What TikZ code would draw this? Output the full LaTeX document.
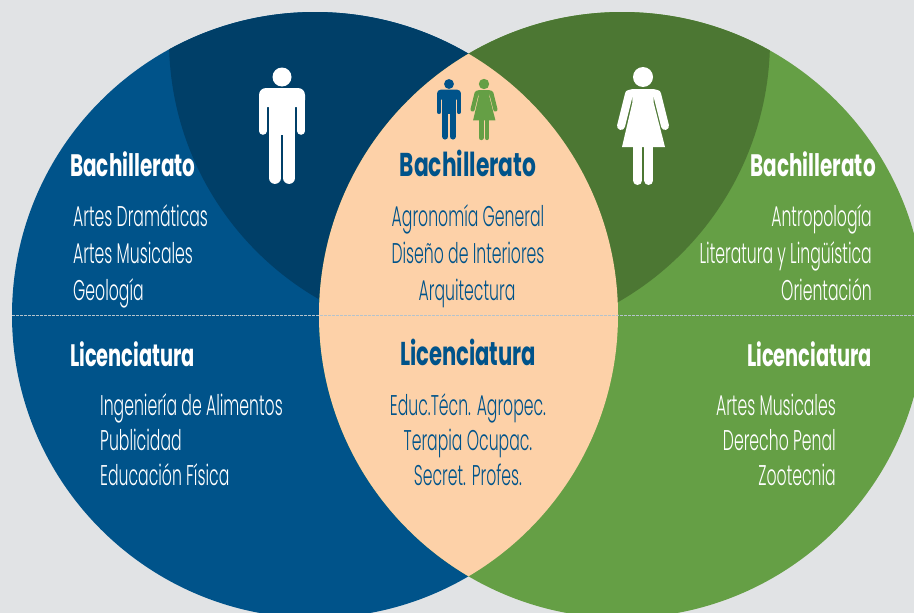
\documentclass[tikz,border=0pt]{standalone}
\usepackage{fontspec}
\newfontfamily\regf[FakeStretch=0.55]{Poppins Light}
\newfontfamily\bldf[FakeStretch=0.645]{Poppins Bold}
\newfontfamily\bldc[FakeStretch=0.66]{Poppins Bold}
\newfontfamily\bldl[FakeStretch=0.625]{Poppins Bold}
\newfontfamily\bldm[FakeStretch=0.64]{Poppins Bold}
\definecolor{bgc}{HTML}{E1E3E5}
\definecolor{blu}{HTML}{00538A}
\definecolor{dblu}{HTML}{003F68}
\definecolor{grn}{HTML}{659F45}
\definecolor{dgrn}{HTML}{4C7733}
\definecolor{pch}{HTML}{FDD1A8}
\definecolor{dsh}{HTML}{B5C3CC}
\tikzset{
  tx/.style={inner sep=0pt,font=\regf\fontsize{28.5}{30}\selectfont},
  hd/.style={inner sep=0pt,font=\bldf\fontsize{31}{33}\selectfont},
  hdc/.style={inner sep=0pt,text=blu,font=\bldc\fontsize{33}{35}\selectfont},
  hdl/.style={inner sep=0pt,font=\bldl\fontsize{31}{33}\selectfont},
  hdm/.style={inner sep=0pt,text=blu,font=\bldm\fontsize{33}{35}\selectfont},
}
\newcommand\manfig[4]{%
\begin{scope}[shift={(#1,#2)},scale=#3]
 \fill[#4] (0,0) circle (9.5);
 \fill[#4,rounded corners={#3*7pt}] (-23,11) rectangle (23,30);
 \fill[#4] (-13,20) rectangle (13,58);
 \draw[#4,line width={#3*7.6pt},line cap=round] (-19.2,20) -- (-19.2,54);
 \draw[#4,line width={#3*7.6pt},line cap=round] (19.2,20) -- (19.2,54);
 \draw[#4,line width={#3*11.8pt},line cap=round] (-7.1,50) -- (-7.1,101);
 \draw[#4,line width={#3*11.8pt},line cap=round] (7.1,50) -- (7.1,101);
\end{scope}}
\newcommand\womanfig[4]{%
\begin{scope}[shift={(#1,#2)},scale=#3]
 \fill[#4] (0,0) circle (10);
 \fill[#4] (-11,12) -- (11,12) -- (10.5,25) -- (22,70) -- (-21,70) -- (-10.5,25) -- cycle;
 \draw[#4,line width={#3*8pt},line cap=round,line join=round] (-10,16) -- (-14,17) -- (-22,49);
 \draw[#4,line width={#3*8pt},line cap=round,line join=round] (10,16) -- (14,17) -- (22,49);
 \draw[#4,line width={#3*9pt},line cap=round] (-5.4,65) -- (-5.4,103.5);
 \draw[#4,line width={#3*9pt},line cap=round] (5.8,65) -- (5.8,103.5);
\end{scope}}
\begin{document}
\begin{tikzpicture}[x=1pt,y=-1pt]
\useasboundingbox (0,0) rectangle (914,613);
\fill[bgc] (0,0) rectangle (914,613);
\begin{scope}
 \clip (0,0) rectangle (914,613);
 \fill[blu] (315,315) circle (303);
 \fill[grn] (622,315) circle (303);
 \begin{scope}
  \clip (315,315) circle (303);
  \fill[dblu] (468,40) circle (299);
 \end{scope}
 \begin{scope}
  \clip (622,315) circle (303);
  \fill[dgrn] (468,40) circle (302);
 \end{scope}
 \begin{scope}
  \clip (315,315) circle (303);
  \fill[pch] (622,315) circle (303);
 \end{scope}
\end{scope}
\coordinate (dl) at (12,315);
\coordinate (dr) at (914,315);
\draw[dsh,line width=0.7pt,dash pattern=on 2.5pt off 1.5pt] (dl) -- (dr);

\manfig{282}{77}{1}{white}
\womanfig{643}{77}{1}{white}
\manfig{449}{84}{0.52}{blu}
\womanfig{484}{84}{0.52}{grn}

\node[hd,text=white,anchor=base west] (bl) at (70,176) {Bachillerato};
\node[tx,text=white,anchor=base west] (l1) at (73,226) {Artes Dramáticas};
\node[tx,text=white,anchor=base west] (l2) at (73,263) {Artes Musicales};
\node[tx,text=white,anchor=base west] (l3) at (73,300) {Geología};
\node[hdl,text=white,anchor=base west] (ll) at (70,366) {Licenciatura};
\node[tx,text=white,anchor=base west] (l4) at (100,415) {Ingeniería de Alimentos};
\node[tx,text=white,anchor=base west] (l5) at (100,450) {Publicidad};
\node[tx,text=white,anchor=base west] (l6) at (100,485) {Educación Física};

\node[hdc,anchor=base] (bc) at (468,176) {Bachillerato};
\node[tx,text=blu,anchor=base] (c1) at (468,226) {Agronomía General};
\node[tx,text=blu,anchor=base] (c2) at (468,263) {Diseño de Interiores};
\node[tx,text=blu,anchor=base] (c3) at (467,300) {Arquitectura};
\node[hdm,anchor=base] (lc) at (468,365) {Licenciatura};
\node[tx,text=blu,anchor=base] (c4) at (468,415) {Educ.Técn. Agropec.};
\node[tx,text=blu,anchor=base] (c5) at (468,450) {Terapia Ocupac.};
\node[tx,text=blu,anchor=base] (c6) at (468,485) {Secret. Profes.};

\node[hd,text=white,anchor=base east] (br) at (876,176) {Bachillerato};
\node[tx,text=white,anchor=base east] (r1) at (872,226) {Antropología};
\node[tx,text=white,anchor=base east] (r2) at (872,263) {Literatura y Lingüística};
\node[tx,text=white,anchor=base east] (r3) at (872,300) {Orientación};
\node[hdl,text=white,anchor=base east] (lr) at (872,366) {Licenciatura};
\node[tx,text=white,anchor=base east] (r4) at (836,415) {Artes Musicales};
\node[tx,text=white,anchor=base east] (r5) at (836,450) {Derecho Penal};
\node[tx,text=white,anchor=base east] (r6) at (836,485) {Zootecnia};
\end{tikzpicture}
\end{document}
